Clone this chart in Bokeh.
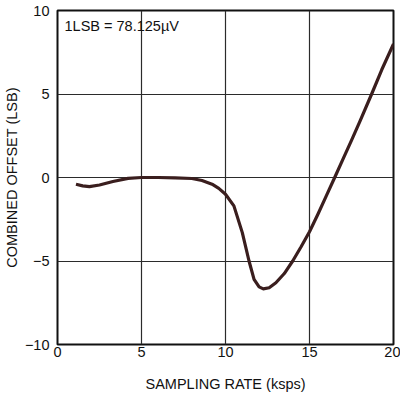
from bokeh.plotting import figure
from bokeh.models import Range1d, FixedTicker, Label
from bokeh.embed import file_html
from bokeh.resources import INLINE

rate_ksps = [1.1, 1.5, 1.9, 2.5, 3.3, 4.2, 5.0, 6.0, 7.0, 8.0, 8.6, 9.2, 9.6, 10.0,
             10.5, 11.0, 11.4, 11.7, 12.0, 12.25, 12.6, 13.0, 13.5, 14.0, 14.5,
             15.0, 15.5, 16.0, 16.5, 17.0, 17.5, 18.0, 18.7, 19.3, 20.0]
offset_lsb = [-0.4, -0.5, -0.55, -0.45, -0.24, -0.05, 0.0, 0.0, -0.02, -0.06, -0.18,
              -0.4, -0.65, -1.0, -1.7, -3.3, -5.0, -6.1, -6.55, -6.67, -6.6, -6.3,
              -5.75, -5.0, -4.15, -3.25, -2.2, -1.1, 0.0, 1.12, 2.22, 3.36, 5.0, 6.45, 8.0]
x_ticks = [0, 5, 10, 15, 20]
y_ticks = [-10, -5, 0, 5, 10]
note = "1LSB = 78.125\u00b5V"

FONT = "Liberation Sans"
FS = "14.5px"

p = figure(width=400, height=396, output_backend="svg", toolbar_location=None,
           x_range=Range1d(0, 20), y_range=Range1d(-10, 10),
           min_border_left=55, min_border_right=7, min_border_top=10, min_border_bottom=52,
           background_fill_color="white", border_fill_color="white")

p.line(rate_ksps, offset_lsb, line_color="#3a1e1e", line_width=3.2, line_join="round")

for ax, ticks in ((p.xaxis, x_ticks), (p.yaxis, y_ticks)):
    ax.ticker = FixedTicker(ticks=ticks)
    ax.major_tick_line_color = None
    ax.minor_tick_line_color = None
    ax.major_tick_in = 0
    ax.major_tick_out = 0
    ax.axis_line_color = None
    ax.major_label_text_font = FONT
    ax.major_label_text_font_size = FS
    ax.major_label_text_color = "#111111"
    ax.axis_label_text_font = FONT
    ax.axis_label_text_font_size = FS
    ax.axis_label_text_font_style = "normal"
    ax.axis_label_text_color = "#111111"

p.xaxis.axis_label = "SAMPLING RATE (ksps)"
p.yaxis.axis_label = "COMBINED OFFSET (LSB)"
p.xaxis.major_label_standoff = 2
p.yaxis.major_label_standoff = 8
p.xaxis.axis_label_standoff = 16
p.yaxis.axis_label_standoff = 2

p.xgrid.ticker = FixedTicker(ticks=x_ticks)
p.ygrid.ticker = FixedTicker(ticks=y_ticks)
for g in (p.xgrid, p.ygrid):
    g.grid_line_color = "#2b2b2b"
    g.grid_line_width = 1.2
    g.grid_line_alpha = 1.0

p.outline_line_color = "#111111"
p.outline_line_width = 2

p.add_layout(Label(x=0.42, y=9.1, text=note, text_font=FONT, text_font_size=FS,
                   text_baseline="middle", text_color="#111111"))

open("out.html", "w").write(file_html(p, INLINE))
